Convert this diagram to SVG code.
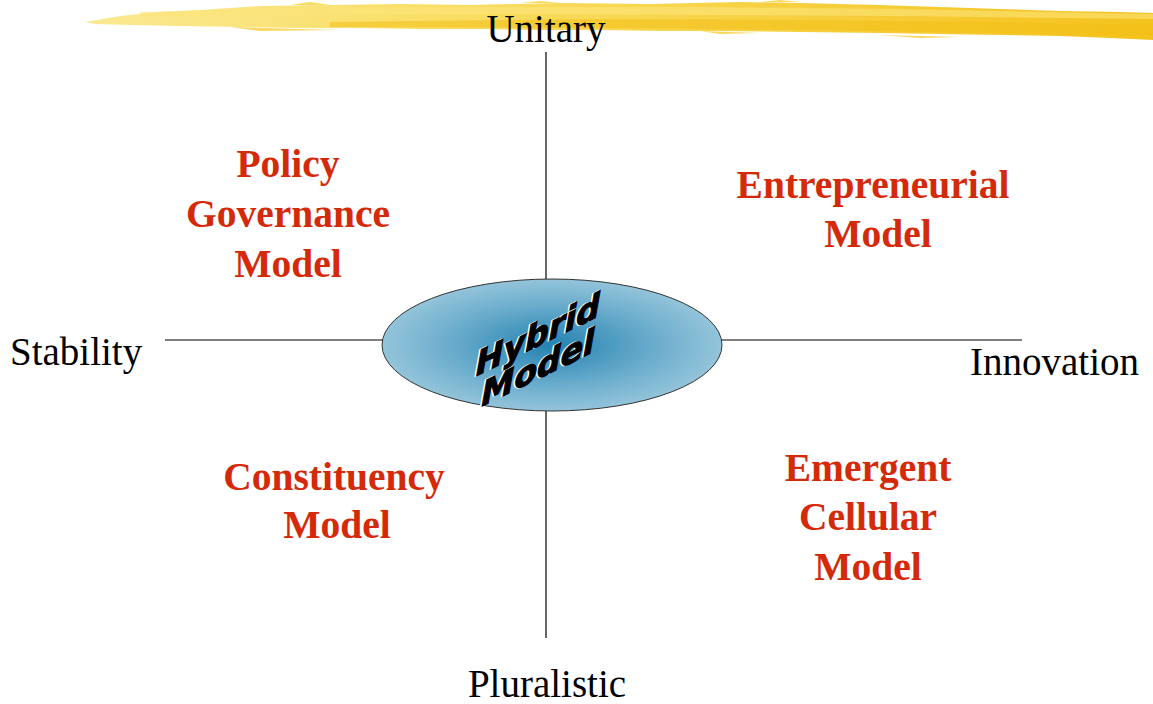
<svg xmlns="http://www.w3.org/2000/svg" width="1153" height="704" viewBox="0 0 1153 704">
<style>
.axis{font-family:"Liberation Serif","Times New Roman",serif;font-size:39px;fill:#000}
.model{font-family:"Liberation Serif","Times New Roman",serif;font-size:39.5px;font-weight:bold;fill:#d42a0a;text-anchor:middle}
.line{stroke:#000;stroke-width:1.2;fill:none}
.hyb{font-family:"DejaVu Sans","Liberation Sans",sans-serif;font-weight:bold;font-style:italic;font-size:33px;text-anchor:middle}
.hybw{fill:#fff;stroke:#fff;stroke-width:1.5}
.hybk{fill:#000;stroke:#000;stroke-width:1.2}
</style>
<defs>
<linearGradient id="brush" x1="0" y1="0" x2="1" y2="0">
<stop offset="0" stop-color="#fbe993"/>
<stop offset="0.35" stop-color="#f9dd62"/>
<stop offset="1" stop-color="#f4c21c"/>
</linearGradient>
<radialGradient id="ell" cx="0.5" cy="0.5" r="0.5">
<stop offset="0" stop-color="#2482b1"/>
<stop offset="0.6" stop-color="#6aaccc"/>
<stop offset="1" stop-color="#93c4da"/>
</radialGradient>
</defs>
<g id="brushstroke">
<path d="M85 22 L120 16 L160 12 L200 10 L260 6 L330 5 L400 4 L470 5 L560 3 L650 4 L740 2 L800 3 L880 5 L940 7 L1000 9 L1060 11 L1120 12 L1153 13 L1153 40 L1110 38 L1060 36 L1000 35 L940 34 L880 33 L800 32 L720 31 L660 31 L600 30 L540 30 L480 29 L420 29 L360 28 L300 28 L240 27 L180 26 L130 25 L95 24 Z" fill="url(#brush)"/>
<path d="M140 12 L300 8 L500 7 L700 7 L900 9 L1100 13 L1153 14 L1153 19 L900 16 L700 15 L500 14 L300 15 L140 17 Z" fill="#fce57c" opacity="0.6"/>
<path d="M330 22 L600 19 L800 20 L1000 22 L1153 25 L1153 36 L1000 33 L800 30 L600 28 L330 27 Z" fill="#f3bf16" opacity="0.55"/>
<path d="M230 27 L300 29 L340 30 L260 31 Z M700 31 L760 33 L720 34 Z M880 35 L960 37 L920 38 Z" fill="#f8d860"/>
<path d="M290 5 L310 2 L330 5 Z M520 3 L540 1 L560 3 Z M760 2 L780 0 L800 2 Z" fill="#f9dc5c"/>
</g>
<g id="connectors">
<line class="line" x1="546" y1="52" x2="546" y2="279"/>
<line class="line" x1="546" y1="411" x2="546" y2="638"/>
<line class="line" x1="165" y1="340" x2="383" y2="340"/>
<line class="line" x1="721" y1="340" x2="1022" y2="340"/>
</g>
<g id="hybrid">
<ellipse cx="552" cy="345" rx="170" ry="66" fill="url(#ell)" stroke="#333" stroke-width="1"/>
<g transform="translate(538,352) skewY(-26)">
<text class="hyb hybw" x="-1.5" y="-6.5">Hybrid</text>
<text class="hyb hybw" x="-1.5" y="26.5">Model</text>
<text class="hyb hybk" x="0" y="-6">Hybrid</text>
<text class="hyb hybk" x="0" y="27">Model</text>
</g>
</g>
<g id="unitary"><text class="axis" x="546" y="42" text-anchor="middle">Unitary</text></g>
<g id="stability"><text class="axis" x="10" y="365">Stability</text></g>
<g id="innovation"><text class="axis" x="970" y="375">Innovation</text></g>
<g id="pluralistic"><text class="axis" x="547" y="697" text-anchor="middle">Pluralistic</text></g>
<g id="policy">
<text class="model" x="288" y="177">Policy</text>
<text class="model" x="288" y="227">Governance</text>
<text class="model" x="288" y="277">Model</text>
</g>
<g id="entrepreneurial">
<text class="model" x="873" y="198">Entrepreneurial</text>
<text class="model" x="878" y="247">Model</text>
</g>
<g id="constituency">
<text class="model" x="334" y="490">Constituency</text>
<text class="model" x="337" y="538">Model</text>
</g>
<g id="emergent">
<text class="model" x="868" y="481">Emergent</text>
<text class="model" x="868" y="530">Cellular</text>
<text class="model" x="868" y="580">Model</text>
</g>
</svg>
